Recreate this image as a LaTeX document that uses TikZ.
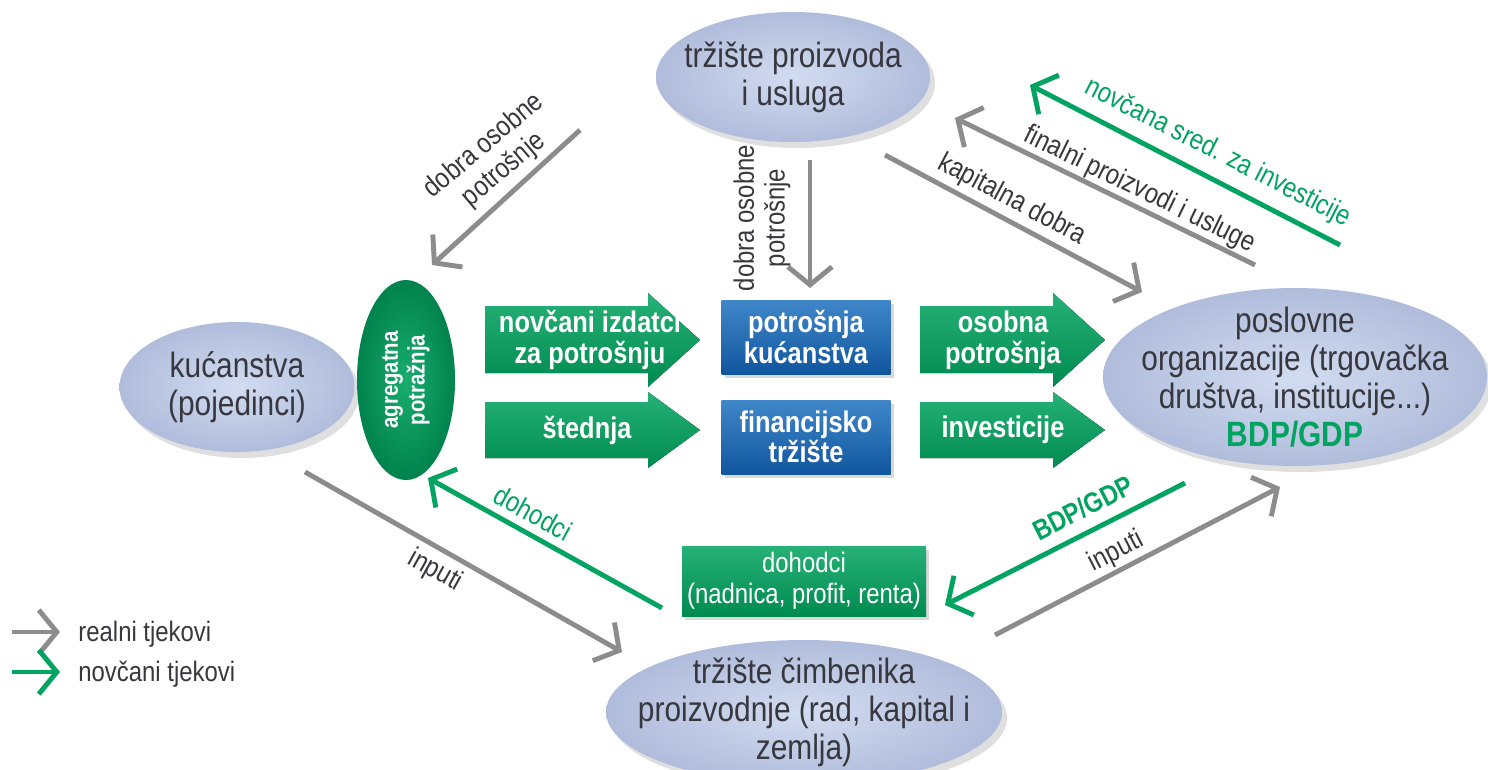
\documentclass[tikz,border=0pt]{standalone}
\usepackage{fontspec}
\setmainfont[FakeStretch=0.85]{Liberation Sans}
\usetikzlibrary{shapes.geometric,shadows,arrows.meta}

\definecolor{ovalblue}{RGB}{210,220,241}
\definecolor{ovalrim}{RGB}{176,188,219}
\definecolor{flowgreen}{RGB}{0,163,95}
\definecolor{boxblue}{RGB}{30,114,192}
\definecolor{boxbluedark}{RGB}{16,86,158}
\definecolor{flowgray}{RGB}{140,140,140}
\definecolor{txtgray}{RGB}{55,55,62}

\tikzset{
  oval/.style={ellipse, inner color=ovalblue, outer color=ovalrim,
    drop shadow={opacity=0.25, shadow xshift=0.5mm, shadow yshift=-0.6mm}},
  ovaltext/.style={align=center, text=txtgray, font=\fontsize{10}{10.8}\selectfont},
  whitetxt/.style={align=center, text=white, font=\fontsize{8.5}{8.7}\selectfont\bfseries},
  bluebox/.style={rectangle, top color=boxblue!85!white, bottom color=boxbluedark,
    minimum width=16.9mm, minimum height=7.4mm, drop shadow={opacity=0.3, shadow xshift=0.3mm, shadow yshift=-0.4mm}},
  greenbox/.style={rectangle, top color=flowgreen!85!white, bottom color=flowgreen!85!black,
    drop shadow={opacity=0.3, shadow xshift=0.3mm, shadow yshift=-0.4mm}},
  blockarrow/.style={top color=flowgreen!85!white, bottom color=flowgreen!85!black},
  realflow/.style={draw=flowgray, line width=1.4pt, -{Straight Barb[length=1.8mm, width=4.4mm]}},
  moneyflow/.style={draw=flowgreen, line width=1.4pt, -{Straight Barb[length=1.8mm, width=4.4mm]}},
  lbl/.style={align=center, text=txtgray, font=\fontsize{8}{8.8}\selectfont},
  moneylbl/.style={align=center, text=flowgreen, font=\fontsize{8}{8.8}\selectfont}
}

\begin{document}
\begin{tikzpicture}[x=0.1mm, y=-0.1mm]
  \useasboundingbox (0,0) rectangle (1488,769);

  % trzista i sudionici
  \node[oval, minimum width=27.4mm, minimum height=13mm] (market) at (793,77) {};
  \node[ovaltext] (markettxt) at (market) {tržište proizvoda\\i usluga};

  \node[oval, minimum width=23.5mm, minimum height=13mm] (house) at (237,387) {};
  \node[ovaltext] (housetxt) at (house) {kućanstva\\(pojedinci)};

  \node[ellipse, inner color=flowgreen!90!white, outer color=flowgreen!80!black,
    minimum width=9.8mm, minimum height=20mm] (demand) at (406,380) {};
  \node[whitetxt, rotate=90, font=\fontsize{6.8}{7.6}\selectfont\bfseries] (demandtxt) at (demand) {agregatna\\potražnja};

  \node[oval, minimum width=38.4mm, minimum height=17.8mm] (firms) at (1295,377) {};
  \node[ovaltext] (firmstxt) at (firms) {poslovne\\organizacije (trgovačka\\društva, institucije...)\\
    \textcolor{flowgreen}{\bfseries BDP/GDP}};

  \node[oval, minimum width=39.6mm, minimum height=14.4mm] (factors) at (804,712) {};
  \node[ovaltext] (factorstxt) at (factors) {tržište čimbenika\\proizvodnje (rad, kapital i\\zemlja)};

  % sredina
  \node[bluebox] (consum) at (806,337) {};
  \node[whitetxt] (consumtxt) at (consum) {potrošnja\\kućanstva};
  \node[bluebox] (finmkt) at (806,437) {};
  \node[whitetxt] (finmkttxt) at (finmkt) {financijsko\\tržište};

  \fill[blockarrow] (485,306) -- (648,306) -- (648,293) -- (700,340) -- (648,387) -- (648,373) -- (485,373) -- cycle;
  \node[whitetxt] (spend) at (590,340) {novčani izdatci\\za potrošnju};
  \fill[blockarrow] (485,402) -- (648,402) -- (648,392) -- (700,430) -- (648,468) -- (648,458) -- (485,458) -- cycle;
  \node[whitetxt] (saving) at (587,430) {štednja};
  \fill[blockarrow] (920,306) -- (1053,306) -- (1053,293) -- (1105,340) -- (1053,387) -- (1053,373) -- (920,373) -- cycle;
  \node[whitetxt] (personal) at (1003,340) {osobna\\potrošnja};
  \fill[blockarrow] (920,402) -- (1053,402) -- (1053,392) -- (1105,430) -- (1053,468) -- (1053,458) -- (920,458) -- cycle;
  \node[whitetxt] (invest) at (1003,430) {investicije};

  \node[greenbox, minimum width=24.4mm, minimum height=7mm] (income) at (804,581) {};
  \node[whitetxt, font=\fontsize{8}{8.8}\selectfont] (incometxt) at (income) {dohodci\\(nadnica, profit, renta)};

  % krajevi tokova
  \coordinate (goodsA) at (580,130);  \coordinate (goodsB) at (432,265);
  \coordinate (goodsC) at (810,160);  \coordinate (goodsD) at (810,288);
  \coordinate (capA) at (885,155);    \coordinate (capB) at (1142,292);
  \coordinate (finA) at (1255,265);   \coordinate (finB) at (955,118);
  \coordinate (invA) at (1340,245);   \coordinate (invB) at (1030,85);
  \coordinate (inpA) at (305,472);    \coordinate (inpB) at (622,652);
  \coordinate (incA) at (662,608);    \coordinate (incB) at (428,478);
  \coordinate (gdpA) at (1185,483);   \coordinate (gdpB) at (945,605);
  \coordinate (inpC) at (995,635);    \coordinate (inpD) at (1280,487);

  % realni tokovi
  \draw[realflow] (goodsA) -- (goodsB);
  \node[lbl, rotate=40] (goodslbl) at (494,158) {dobra osobne\\potrošnje};
  \draw[realflow] (goodsC) -- (goodsD);
  \node[lbl, rotate=90] (goodslbl2) at (762,218) {dobra osobne\\potrošnje};
  \draw[realflow] (capA) -- (capB);
  \node[lbl, rotate=-28] (caplbl) at (1012,200) {kapitalna dobra};
  \draw[realflow] (finA) -- (finB);
  \node[lbl, rotate=-26] (finlbl) at (1140,190) {finalni proizvodi i usluge};
  \draw[realflow] (inpA) -- (inpB);
  \node[lbl, rotate=-29] (inplbl) at (435,571) {inputi};
  \draw[realflow] (inpC) -- (inpD);
  \node[lbl, rotate=27] (inplbl2) at (1116,552) {inputi};

  % novcani tokovi
  \draw[moneyflow] (invA) -- (invB);
  \node[moneylbl, rotate=-27] (invlbl) at (1218,153) {novčana sred. za investicije};
  \draw[moneyflow] (incA) -- (incB);
  \node[moneylbl, rotate=-29] (inclbl) at (533,513) {dohodci};
  \draw[moneyflow] (gdpA) -- (gdpB);
  \node[moneylbl, rotate=27, font=\fontsize{8}{8.8}\selectfont\bfseries] (gdplbl) at (1083,508) {BDP/GDP};

  % legenda
  \coordinate (legA) at (12,632);  \coordinate (legB) at (60,632);
  \coordinate (legC) at (12,672);  \coordinate (legD) at (60,672);
  \draw[realflow] (legA) -- (legB);
  \node[lbl, anchor=west] (legreal) at (66,634) {realni tjekovi};
  \draw[moneyflow] (legC) -- (legD);
  \node[lbl, anchor=west] (legmoney) at (66,674) {novčani tjekovi};
\end{tikzpicture}
\end{document}
